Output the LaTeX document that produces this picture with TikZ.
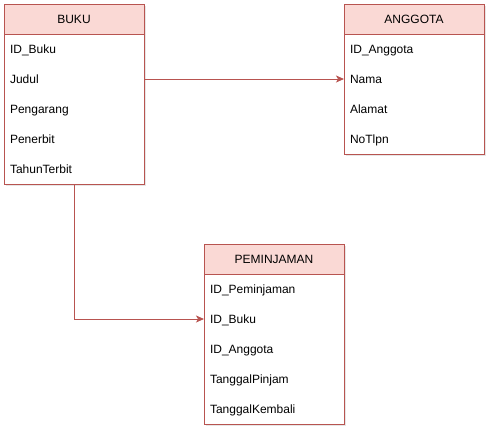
\documentclass[tikz,border=0pt]{standalone}
\usepackage{fontspec}
\setmainfont{Liberation Sans}
\usetikzlibrary{positioning,arrows.meta,backgrounds,shadows}
\definecolor{merah}{HTML}{B85450}
\definecolor{merahmuda}{HTML}{FAD9D5}
\tikzset{
  kepala/.style={draw=merah, fill=merahmuda, line width=1pt, minimum width=140pt, minimum height=30pt,
    inner sep=0pt, outer sep=0pt, text height=10.5pt, text depth=1.5pt, font=\fontsize{12}{14}\selectfont},
  baris/.style={minimum height=30pt, inner xsep=6pt, inner ysep=0pt, outer sep=0pt, text width=128pt,
    text height=10pt, text depth=2pt, align=left, font=\fontsize{12}{14}\selectfont},
  tepi/.style={draw=merah, line width=1pt, fill=white, drop shadow={opacity=0.2, shadow xshift=1.5pt, shadow yshift=-1.5pt}},
  panah/.style={draw=merah, line width=1pt, -{Stealth[length=8pt, width=7pt, inset=2pt]}}
}
\begin{document}
\begin{tikzpicture}[x=1pt, y=-1pt]
                \useasboundingbox (0,0) rectangle (491,432);
                % BUKU
                \node[kepala] (bukuH) at (74,19) {BUKU};
                \node[baris, below=0pt of bukuH] (bukuId) {ID\_Buku};
                \node[baris, below=0pt of bukuId] (bukuJudul) {Judul};
                \node[baris, below=0pt of bukuJudul] (bukuPengarang) {Pengarang};
                \node[baris, below=0pt of bukuPengarang] (bukuPenerbit) {Penerbit};
                \node[baris, below=0pt of bukuPenerbit] (bukuTahun) {TahunTerbit};
                % ANGGOTA
                \node[kepala] (anggH) at (414,19) {ANGGOTA};
                \node[baris, below=0pt of anggH] (anggId) {ID\_Anggota};
                \node[baris, below=0pt of anggId] (anggNama) {Nama};
                \node[baris, below=0pt of anggNama] (anggAlamat) {Alamat};
                \node[baris, below=0pt of anggAlamat] (anggTlpn) {NoTlpn};
                % PEMINJAMAN
                \node[kepala] (pinjH) at (274,259) {PEMINJAMAN};
                \node[baris, below=0pt of pinjH] (pinjId) {ID\_Peminjaman};
                \node[baris, below=0pt of pinjId] (pinjBuku) {ID\_Buku};
                \node[baris, below=0pt of pinjBuku] (pinjAngg) {ID\_Anggota};
                \node[baris, below=0pt of pinjAngg] (pinjTglPinjam) {TanggalPinjam};
                \node[baris, below=0pt of pinjTglPinjam] (pinjTglKembali) {TanggalKembali};
                \begin{scope}[on background layer]
                    \draw[tepi](bukuH.north west) rectangle (bukuTahun.south east);
                    \draw[tepi](anggH.north west) rectangle (anggTlpn.south east);
                    \draw[tepi](pinjH.north west) rectangle (pinjTglKembali.south east);
                \end{scope}
                % relasi
                \draw[panah](bukuJudul.east)--(anggNama.west);
                \draw[panah](bukuTahun.south)|-(pinjBuku.west);
            \end{tikzpicture}
\end{document}
